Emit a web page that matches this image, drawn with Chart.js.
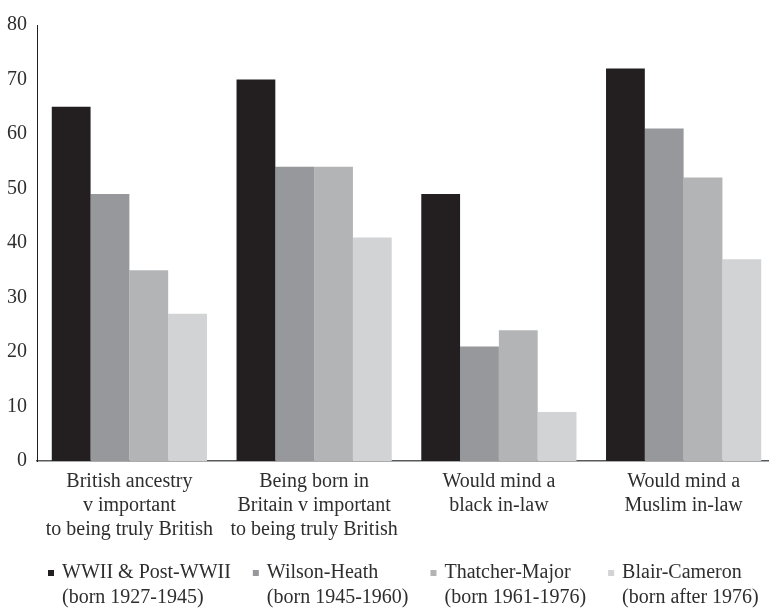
<!DOCTYPE html>
<html>
<head>
<meta charset="utf-8">
<script src="https://cdn.jsdelivr.net/npm/chart.js@4/dist/chart.umd.min.js"></script>
<style>
  html, body { margin: 0; padding: 0; background: #ffffff; overflow: hidden; }
  #wrap { width: 769px; height: 609px; overflow: hidden; position: relative; }
  #wrap canvas { display: block; }
</style>
</head>
<body>
<div id="wrap"><canvas id="chart" width="778" height="609" style="width:778px;height:609px"></canvas></div>
<script>
// Question categories (multi-line axis labels)
const categories = [
  ['British ancestry', 'v important', 'to being truly British'],
  ['Being born in', 'Britain v important', 'to being truly British'],
  ['Would mind a', 'black in-law'],
  ['Would mind a', 'Muslim in-law']
];

// Generational cohorts (two-line legend entries)
const cohortNames = [
  ['WWII & Post-WWII', '(born 1927-1945)'],
  ['Wilson-Heath', '(born 1945-1960)'],
  ['Thatcher-Major', '(born 1961-1976)'],
  ['Blair-Cameron', '(born after 1976)']
];

// Percentages per cohort, one value per category
const wwiiValues          = [65, 70, 49, 72];
const wilsonHeathValues   = [49, 54, 21, 61];
const thatcherMajorValues = [35, 54, 24, 52];
const blairCameronValues  = [27, 41, 9, 37];

// Y-axis tick labels
const yTickValues = [0, 10, 20, 30, 40, 50, 60, 70, 80];

const cohortColors = ['#231f20', '#97989b', '#b3b4b6', '#d2d3d5'];
const seriesValues = [wwiiValues, wilsonHeathValues, thatcherMajorValues, blairCameronValues];

const FONT_FAMILY = '"Liberation Serif", "Times New Roman", serif';
const TEXT_COLOR = '#2e2e2e';

// Legend drawn beneath the axis labels: small square + two text lines per cohort
const cohortLegend = {
  id: 'cohortLegend',
  afterDraw(chart, args, opts) {
    const ctx = chart.ctx;
    ctx.save();
    ctx.font = opts.size + 'px ' + FONT_FAMILY;
    ctx.textBaseline = 'middle';
    ctx.textAlign = 'left';
    let x = chart.chartArea.left + opts.startOffset;
    const y0 = chart.chartArea.bottom + opts.offsetY;
    chart.data.datasets.forEach((ds, i) => {
      const lines = cohortNames[i];
      ctx.fillStyle = ds.backgroundColor;
      ctx.fillRect(x, Math.round(y0 - opts.box / 2), opts.box, opts.box);
      ctx.fillStyle = TEXT_COLOR;
      const tx = x + opts.box + opts.gap;
      let w = 0;
      lines.forEach((ln, j) => {
        ctx.fillText(ln, tx, y0 + j * opts.lineHeight);
        w = Math.max(w, ctx.measureText(ln).width);
      });
      x = tx + w + opts.itemGap;
    });
    ctx.restore();
  }
};

new Chart(document.getElementById('chart'), {
  type: 'bar',
  data: {
    labels: categories,
    datasets: seriesValues.map((vals, i) => ({
      label: cohortNames[i].join(' '),
      data: vals,
      backgroundColor: cohortColors[i],
      borderWidth: 0,
      barPercentage: 1.0,
      categoryPercentage: 0.84
    }))
  },
  options: {
    responsive: false,
    animation: false,
    events: [],
    layout: { padding: { top: 25, left: 7, right: 2, bottom: 58 } },
    plugins: {
      legend: { display: false },
      tooltip: { enabled: false },
      cohortLegend: { size: 20, box: 6, gap: 8, itemGap: 22, lineHeight: 25, startOffset: 11, offsetY: 112 }
    },
    scales: {
      x: {
        grid: { display: false, drawTicks: false },
        border: { display: true, color: '#58595b', width: 1.5 },
        ticks: {
          color: TEXT_COLOR,
          font: { family: FONT_FAMILY, size: 20, lineHeight: 1.2 },
          padding: 9,
          maxRotation: 0,
          autoSkip: false
        }
      },
      y: {
        min: 0,
        max: 80,
        afterBuildTicks(axis) { axis.ticks = yTickValues.map(v => ({ value: v })); },
        afterFit(axis) { axis.width = 30; },
        grid: { display: false, drawTicks: false },
        border: { display: true, color: '#231f20', width: 1 },
        ticks: {
          color: TEXT_COLOR,
          font: { family: FONT_FAMILY, size: 20 },
          padding: 10
        }
      }
    }
  },
  plugins: [cohortLegend]
});
</script>
</body>
</html>
